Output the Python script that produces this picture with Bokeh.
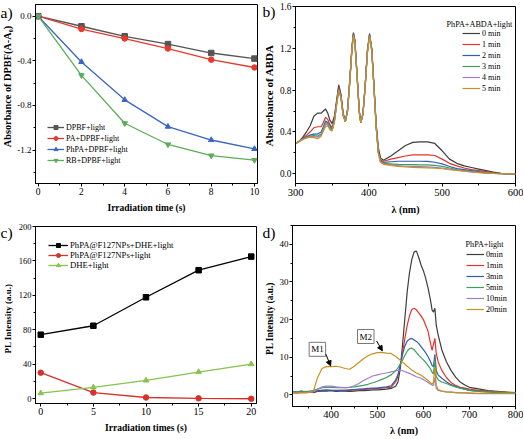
import math
from bokeh.plotting import figure
from bokeh.layouts import row, column
from bokeh.models import (Range1d, Legend, LegendItem, Label, Arrow, NormalHead,
                          SingleIntervalTicker, PrintfTickFormatter)
from bokeh.embed import file_html
from bokeh.resources import INLINE

FONT = "Liberation Serif"

# ---------------- panel a data ----------------
time_a = [0, 2, 4, 6, 8, 10]
dpbf_light = [0.0, -0.09, -0.18, -0.25, -0.33, -0.38]
pa_dpbf_light = [0.0, -0.115, -0.20, -0.29, -0.39, -0.46]
phpa_dpbf_light = [0.0, -0.41, -0.75, -0.99, -1.11, -1.19]
rb_dpbf_light = [0.0, -0.53, -0.96, -1.15, -1.25, -1.29]
labels_a = ["DPBF+light", "PA+DPBF+light", "PhPA+DPBF+light", "RB+DPBF+light"]

# ---------------- panel b data ----------------
wl_b = [300, 305, 310, 315, 320, 325, 330, 335, 338, 341,
        344, 347, 350, 353, 356, 359, 362, 365, 368, 371,
        374, 377, 379, 381, 384, 387, 389, 392, 395, 398,
        401, 404, 407, 410, 413, 416, 420, 430, 440, 450,
        460, 470, 480, 490, 500, 510, 520, 530, 540, 550,
        560, 570, 580, 590, 600]
abs_0min = [0.29, 0.31, 0.35, 0.40, 0.46, 0.55, 0.58, 0.58, 0.60, 0.62,
            0.58, 0.51, 0.48, 0.55, 0.70, 0.85, 0.76, 0.58, 0.50, 0.62,
            0.90, 1.22, 1.35, 1.28, 0.95, 0.60, 0.49, 0.58, 0.85, 1.18,
            1.34, 1.20, 0.85, 0.48, 0.25, 0.15, 0.13, 0.17, 0.22, 0.27,
            0.30, 0.305, 0.305, 0.29, 0.22, 0.14, 0.10, 0.075, 0.06, 0.045,
            0.03, 0.015, 0.005, 0.0, 0.0]
abs_1min = [0.29, 0.31, 0.34, 0.37, 0.40, 0.44, 0.45, 0.45, 0.49, 0.54,
            0.52, 0.47, 0.44, 0.52, 0.68, 0.83, 0.75, 0.57, 0.50, 0.61,
            0.89, 1.21, 1.34, 1.27, 0.94, 0.60, 0.49, 0.57, 0.84, 1.17,
            1.33, 1.19, 0.84, 0.46, 0.22, 0.13, 0.12, 0.14, 0.155, 0.17,
            0.18, 0.182, 0.18, 0.175, 0.14, 0.10, 0.075, 0.055, 0.04, 0.03,
            0.02, 0.01, 0.003, 0.0, 0.0]
abs_2min = [0.29, 0.31, 0.335, 0.355, 0.37, 0.38, 0.38, 0.40, 0.45, 0.505,
            0.49, 0.45, 0.43, 0.51, 0.67, 0.82, 0.74, 0.56, 0.50, 0.61,
            0.88, 1.20, 1.33, 1.26, 0.93, 0.59, 0.49, 0.57, 0.84, 1.16,
            1.33, 1.18, 0.83, 0.45, 0.21, 0.12, 0.11, 0.115, 0.12, 0.12,
            0.12, 0.12, 0.118, 0.11, 0.095, 0.07, 0.05, 0.04, 0.03, 0.02,
            0.012, 0.006, 0.002, 0.0, 0.0]
abs_3min = [0.29, 0.31, 0.33, 0.35, 0.36, 0.365, 0.36, 0.38, 0.43, 0.49,
            0.48, 0.44, 0.42, 0.50, 0.66, 0.81, 0.73, 0.56, 0.50, 0.60,
            0.88, 1.20, 1.33, 1.26, 0.93, 0.59, 0.49, 0.57, 0.83, 1.16,
            1.32, 1.18, 0.83, 0.45, 0.20, 0.115, 0.10, 0.095, 0.09, 0.088,
            0.087, 0.086, 0.085, 0.08, 0.07, 0.055, 0.04, 0.03, 0.022, 0.015,
            0.008, 0.004, 0.001, 0.0, 0.0]
abs_4min = [0.29, 0.31, 0.33, 0.345, 0.355, 0.355, 0.35, 0.37, 0.42, 0.47,
            0.47, 0.43, 0.415, 0.50, 0.66, 0.80, 0.73, 0.56, 0.50, 0.60,
            0.87, 1.19, 1.32, 1.25, 0.92, 0.59, 0.49, 0.57, 0.83, 1.15,
            1.32, 1.17, 0.82, 0.44, 0.20, 0.11, 0.095, 0.085, 0.078, 0.072,
            0.07, 0.068, 0.066, 0.062, 0.055, 0.045, 0.035, 0.026, 0.019, 0.012,
            0.007, 0.003, 0.001, 0.0, 0.0]
abs_5min = [0.29, 0.31, 0.33, 0.34, 0.35, 0.345, 0.335, 0.36, 0.41, 0.45,
            0.46, 0.42, 0.41, 0.49, 0.65, 0.80, 0.72, 0.55, 0.50, 0.60,
            0.87, 1.19, 1.32, 1.25, 0.92, 0.58, 0.49, 0.57, 0.82, 1.15,
            1.32, 1.17, 0.82, 0.44, 0.19, 0.11, 0.09, 0.08, 0.07, 0.065,
            0.06, 0.058, 0.056, 0.053, 0.048, 0.04, 0.032, 0.024, 0.017, 0.011,
            0.006, 0.003, 0.001, 0.0, 0.0]
labels_b = ["0 min", "1 min", "2 min", "3 min", "4 min", "5 min"]

# ---------------- panel c data ----------------
time_c = [0, 5, 10, 15, 20]
nps_dhe_light = [74.2, 84.6, 117.7, 149.2, 165.0]
nps_light = [30.0, 6.9, 1.2, 0.2, -0.3]
dhe_light = [6.2, 13.0, 21.0, 30.8, 40.0]
labels_c = ["PhPA@F127NPs+DHE+light", "PhPA@F127NPs+light", "DHE+light"]

# ---------------- panel d data ----------------
wl_d = [315, 325, 335, 345, 355, 362, 370, 380, 390, 400,
        410, 420, 430, 440, 450, 460, 470, 480, 490, 500,
        510, 520, 530, 540, 545, 550, 555, 560, 565, 570,
        575, 580, 585, 590, 595, 600, 605, 610, 615, 619,
        622, 625, 628, 632, 640, 650, 660, 670, 680, 690,
        700, 720, 740, 760, 780, 800]
pl_0min = [0.8, 0.6, 0.9, 0.7, 0.8, 0.6, 0.9, 1.0, 1.0, 1.1,
           0.9, 1.0, 1.0, 0.9, 1.0, 1.1, 1.1, 1.2, 1.3, 1.3,
           1.4, 1.5, 1.7, 2.3, 3.5, 7.0, 13.5, 20.5, 27.5, 32.5,
           36.0, 38.0, 38.2, 36.5, 34.5, 33.0, 31.0, 28.5, 25.5, 22.5,
           22.0, 23.0, 18.5, 16.0, 12.0, 8.8, 6.5, 4.7, 3.4, 2.6,
           2.0, 1.6, 1.1, 0.9, 0.7, 0.6]
pl_1min = [0.9, 0.7, 1.0, 0.8, 0.9, 0.8, 1.1, 1.2, 1.2, 1.2,
           1.1, 1.2, 1.2, 1.2, 1.3, 1.3, 1.4, 1.5, 1.6, 1.7,
           1.8, 1.9, 2.0, 3.5, 5.0, 8.0, 11.5, 15.0, 18.5, 21.0,
           22.7, 23.0, 22.6, 21.8, 21.0, 20.0, 18.5, 17.0, 14.0, 11.8,
           13.5, 15.0, 11.0, 8.8, 6.5, 4.6, 3.3, 2.5, 2.0, 1.8,
           1.5, 1.2, 1.0, 0.8, 0.7, 0.6]
pl_3min = [0.8, 0.7, 0.9, 0.8, 0.9, 0.9, 1.1, 1.2, 1.3, 1.2,
           1.2, 1.2, 1.2, 1.3, 1.4, 1.5, 1.6, 1.7, 1.8, 1.8,
           2.0, 2.1, 2.4, 4.0, 5.4, 8.0, 10.8, 13.0, 14.3, 14.8,
           15.0, 14.6, 14.2, 13.6, 12.8, 12.0, 11.2, 10.2, 9.0, 7.8,
           7.5, 10.8, 6.5, 5.3, 4.4, 3.5, 2.7, 2.2, 1.8, 1.5,
           1.2, 0.9, 0.8, 0.6, 0.6, 0.5]
pl_5min = [0.7, 0.8, 0.8, 0.9, 1.0, 1.2, 1.5, 1.9, 2.0, 2.0,
           1.9, 1.9, 1.9, 2.0, 2.1, 2.3, 2.5, 2.8, 3.2, 3.6,
           4.1, 4.6, 5.3, 6.4, 7.2, 8.2, 9.3, 10.5, 11.6, 12.3,
           12.4, 12.0, 11.2, 10.5, 9.9, 9.3, 8.6, 7.8, 7.0, 6.0,
           5.6, 9.5, 4.8, 4.0, 3.4, 3.0, 2.5, 2.1, 1.8, 1.5,
           1.2, 0.9, 0.8, 0.7, 0.6, 0.6]
pl_10min = [0.5, 0.4, 0.6, 0.5, 0.7, 0.8, 1.4, 2.1, 2.3, 2.3,
            2.1, 2.0, 1.9, 2.0, 2.4, 3.0, 3.8, 4.4, 5.0, 5.3,
            5.6, 5.8, 6.1, 6.4, 6.5, 6.6, 6.4, 6.2, 5.9, 5.7,
            5.4, 5.1, 4.8, 4.6, 4.4, 4.1, 3.7, 3.3, 2.9, 2.6,
            2.5, 4.5, 1.8, 1.2, 1.0, 0.8, 0.7, 0.6, 0.5, 0.5,
            0.4, 0.3, 0.3, 0.3, 0.3, 0.3]
pl_20min = [0.5, 0.5, 0.6, 0.6, 0.7, 1.2, 4.5, 7.0, 7.5, 7.5,
            7.6, 7.4, 7.0, 6.8, 7.6, 8.6, 9.6, 10.4, 10.9, 11.2,
            11.3, 11.1, 11.0, 10.2, 9.7, 9.2, 8.7, 8.2, 7.6, 7.1,
            6.6, 6.2, 5.8, 5.5, 5.2, 4.8, 4.3, 3.8, 3.3, 2.8,
            3.5, 7.4, 2.5, 1.4, 1.0, 0.8, 0.7, 0.6, 0.5, 0.5,
            0.5, 0.4, 0.4, 0.4, 0.4, 0.4]
labels_d = ["0min", "1min", "3min", "5min", "10min", "20min"]

panel_letters = ["a)", "b)", "c)", "d)"]
y_titles = ["Absorbance of DPBF(A-A\u2080)", "Absorbance of ABDA",
            "PL Intensity (a.u.)", "PL Intensity (a.u.)"]

SPEC_COLORS = ["#3d3d3d", "#e2342b", "#2f5db5", "#3c9f5e", "#a07fc8", "#c8921e"]


def make_fig(w, h, xr, yr, mbl, mbr, mbt, mbb, xint, yint, xlabel,
             xtick_size, ytick_size, xtitle_size, xs1, xs2, yfmt=None):
    p = figure(width=w, height=h, x_range=Range1d(*xr), y_range=Range1d(*yr),
               output_backend="svg", toolbar_location=None, tools="",
               min_border_left=mbl, min_border_right=mbr,
               min_border_top=mbt, min_border_bottom=mbb)
    p.frame_align = False
    p.xgrid.visible = False
    p.ygrid.visible = False
    p.outline_line_color = "black"
    p.outline_line_alpha = 1
    p.outline_line_width = 1
    p.background_fill_color = "white"
    p.border_fill_color = "white"
    p.xaxis.ticker = SingleIntervalTicker(interval=xint, num_minor_ticks=2)
    p.yaxis.ticker = SingleIntervalTicker(interval=yint, num_minor_ticks=2)
    if yfmt:
        p.yaxis.formatter = PrintfTickFormatter(format=yfmt)
    p.xaxis.axis_label = xlabel
    for ax in (p.xaxis[0], p.yaxis[0]):
        ax.axis_line_color = "black"
        ax.major_tick_line_color = "black"
        ax.minor_tick_line_color = "black"
        ax.major_tick_out = 3
        ax.major_tick_in = 0
        ax.minor_tick_out = 2
        ax.minor_tick_in = 0
        ax.major_label_text_font = FONT
        ax.major_label_text_color = "black"
        ax.axis_label_text_font = FONT
        ax.axis_label_text_font_style = "bold"
        ax.axis_label_text_color = "black"
    p.xaxis.major_label_text_font_size = xtick_size
    p.yaxis.major_label_text_font_size = ytick_size
    p.xaxis.axis_label_text_font_size = xtitle_size
    p.xaxis.major_label_standoff = xs1
    p.xaxis.axis_label_standoff = xs2
    p.yaxis.major_label_standoff = 1
    return p


def add_legend(p, items, x, y, size, gw, spacing):
    leg = Legend(items=items, location=(x, y), orientation="vertical",
                 label_text_font=FONT, label_text_font_size=size,
                 label_text_color="black",
                 glyph_width=gw, glyph_height=10, label_height=10,
                 label_standoff=2, spacing=spacing, padding=0, margin=0,
                 border_line_alpha=0, background_fill_alpha=0)
    p.add_layout(leg)


def strip_fig(h, letter, letter_y, title, title_x, title_y, title_size):
    # narrow strip left of a panel holding the panel letter and the y-axis title
    f = figure(width=14, height=h, x_range=Range1d(0, 1), y_range=Range1d(0, 1),
               output_backend="svg", toolbar_location=None, tools="",
               x_axis_type=None, y_axis_type=None, min_border=0)
    f.frame_align = False
    f.background_fill_color = "white"
    f.border_fill_color = "white"
    f.outline_line_color = None
    f.add_layout(Label(x=0, y=letter_y, x_units="screen", y_units="screen", text=letter,
                       text_font=FONT, text_font_size="15.5px", text_color="black",
                       text_baseline="middle", text_align="left"))
    f.add_layout(Label(x=title_x, y=title_y, x_units="screen", y_units="screen",
                       text=title, angle=math.pi / 2,
                       text_font=FONT, text_font_size=title_size, text_font_style="bold",
                       text_color="black", text_baseline="middle", text_align="center"))
    return f


# ---------------- panel a ----------------
pa = make_fig(248, 218, (-0.125, 10.14), (-1.5, 0.105), 21, 5, 4, 35, 2, 0.4,
              "Irradiation time (s)", "9.5px", "9px", "9.5px", 1, 5, "%.1f")
series_a = [dpbf_light, pa_dpbf_light, phpa_dpbf_light, rb_dpbf_light]
colors_a = ["#555555", "#e8392d", "#3a66c4", "#5cad5a"]
markers_a = ["square", "circle", "triangle", "inverted_triangle"]
items_a = []
for ys, c, m, lab in zip(series_a, colors_a, markers_a, labels_a):
    r1 = pa.line(time_a, ys, line_color=c, line_width=1.3)
    r2 = pa.scatter(time_a, ys, marker=m, size=5.5, fill_color=c, line_color=c)
    items_a.append(LegendItem(label=lab, renderers=[r1, r2]))
add_legend(pa, items_a, 12, 18, "8px", 17, 1)

# ---------------- panel b ----------------
pb = make_fig(247, 218, (300, 600), (-0.093, 1.6), 18, 8, 6, 35, 100, 0.4,
              "\u03bb (nm)", "10.5px", "9.3px", "10px", 2, 5, "%.1f")
series_b = [abs_0min, abs_1min, abs_2min, abs_3min, abs_4min, abs_5min]
items_b = []
for ys, c, lab in zip(series_b, SPEC_COLORS, labels_b):
    r = pb.line(wl_b, ys, line_color=c, line_width=1.2)
    items_b.append(LegendItem(label=lab, renderers=[r]))
add_legend(pb, items_b, 167, 90, "8px", 18, 1)
pb.add_layout(Label(x=151, y=159, x_units="screen", y_units="screen",
                    text="PhPA+ABDA+light", text_font=FONT, text_font_size="8.2px",
                    text_color="black", text_baseline="middle"))

# ---------------- panel c ----------------
pc = make_fig(248, 220, (-0.5, 20.5), (-5.8, 200), 21, 6, 8, 35, 5, 40,
              "Irradiation times (s)", "10px", "8.5px", "9.5px", 1, 5)
series_c = [nps_dhe_light, nps_light, dhe_light]
colors_c = ["#000000", "#d9302a", "#86c44c"]
markers_c = ["square", "circle", "triangle"]
items_c = []
for ys, c, m, lab in zip(series_c, colors_c, markers_c, labels_c):
    r1 = pc.line(time_c, ys, line_color=c, line_width=1.3)
    r2 = pc.scatter(time_c, ys, marker=m, size=5.5, fill_color=c, line_color=c)
    items_c.append(LegendItem(label=lab, renderers=[r1, r2]))
add_legend(pc, items_c, 13, 133, "8.7px", 20, 0)

# ---------------- panel d ----------------
pd_ = make_fig(247, 220, (316, 800), (-3.1, 45), 15, 8, 7, 32, 100, 10,
               "\u03bb (nm)", "10.5px", "9px", "10px", 1, 4)
series_d = [pl_0min, pl_1min, pl_3min, pl_5min, pl_10min, pl_20min]
items_d = []
for ys, c, lab in zip(series_d, SPEC_COLORS, labels_d):
    r = pd_.line(wl_d, ys, line_color=c, line_width=1.2)
    items_d.append(LegendItem(label=lab, renderers=[r]))
add_legend(pd_, items_d, 174, 92, "8.2px", 18, 1)
pd_.add_layout(Label(x=173, y=162, x_units="screen", y_units="screen",
                     text="PhPA+light", text_font=FONT, text_font_size="8.2px",
                     text_color="black", text_baseline="middle"))

for txt, lx, ly in [("M1", 370, 12.1), ("M2", 475, 15.5)]:
    pd_.add_layout(Label(x=lx, y=ly, text=txt, text_font=FONT, text_font_size="9px",
                         text_color="black", text_align="center", text_baseline="middle",
                         border_line_color="#777777", border_line_width=1,
                         background_fill_color="white", padding=2))
pd_.add_layout(Arrow(end=NormalHead(size=5, fill_color="black", line_color="black"),
                     x_start=388.5, y_start=10.8, x_end=398.7, y_end=7.7,
                     line_color="black", line_width=1))
pd_.add_layout(Arrow(end=NormalHead(size=5, fill_color="black", line_color="black"),
                     x_start=498.7, y_start=14.3, x_end=510.9, y_end=11.7,
                     line_color="black", line_width=1))

# ---------------- strips with panel letters and y titles ----------------
sa = strip_fig(218, panel_letters[0], 206, y_titles[0], 7.3, 132, "10.3px")
sb = strip_fig(218, panel_letters[1], 207, y_titles[1], 6.7, 123, "11px")
sc = strip_fig(220, panel_letters[2], 206, y_titles[2], 7.3, 120, "9px")
sd = strip_fig(220, panel_letters[3], 206, y_titles[3], 7.3, 120, "9.4px")

layout = column(row(sa, pa, sb, pb), row(sc, pc, sd, pd_))

open("out.html", "w").write(file_html(layout, INLINE))
